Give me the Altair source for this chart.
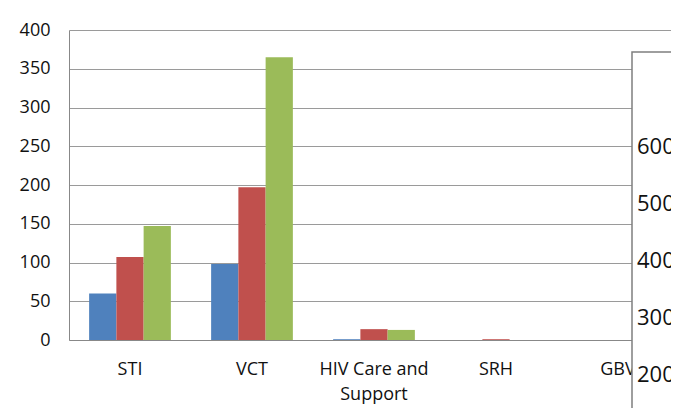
import altair as alt
import pandas as pd

categories = ["STI", "VCT", "HIV Care and Support", "SRH", "GBV"]
series_names = ["Series 1", "Series 2", "Series 3"]
series1 = [60, 98, 1, 0, 0]
series2 = [107, 197, 14, 1, 0]
series3 = [147, 365, 13, 0, 0]
colors = ["#4F81BD", "#C0504D", "#9BBB59"]
y_ticks = [0, 50, 100, 150, 200, 250, 300, 350, 400]
box_labels = [600, 500, 400, 300, 200]

rows = []
for name, vals in zip(series_names, [series1, series2, series3]):
    for c, v in zip(categories, vals):
        rows.append({"category": c, "series": name, "value": v})
df = pd.DataFrame(rows)

font = "Open Sans"
txt = "#111111"

bars = alt.Chart(df).mark_bar(strokeWidth=0).encode(
    x=alt.X(
        "category:N",
        sort=categories,
        scale=alt.Scale(paddingInner=0.33, paddingOuter=0.165, range=[0, 610]),
        axis=alt.Axis(
            title=None, labelAngle=0, ticks=False, grid=False,
            domainColor="#888888", labelFont=font, labelFontSize=18,
            labelColor=txt, labelPadding=20, labelLineHeight=25,
            labelOverlap=False,
            labelExpr="datum.value == 'HIV Care and Support' ? ['HIV Care and', 'Support'] : datum.value",
        ),
    ),
    xOffset=alt.XOffset("series:N", sort=series_names,
                        scale=alt.Scale(paddingInner=0, paddingOuter=0)),
    y=alt.Y(
        "value:Q",
        scale=alt.Scale(domain=[0, 400]),
        axis=alt.Axis(
            values=y_ticks, title=None, ticks=False, labelPadding=19,
            gridColor="#9a9a9a", domainColor="#888888", labelFont=font,
            labelFontSize=18, labelColor=txt,
        ),
    ),
    color=alt.Color("series:N", scale=alt.Scale(domain=series_names, range=colors), legend=None),
)

box = alt.Chart(pd.DataFrame({"a": [0]})).mark_rect(
    fill="white", stroke="#7f7f7f", strokeWidth=1.5
).encode(
    x=alt.value(563), x2=alt.value(720), y=alt.value(22), y2=alt.value(500)
)

box_text = alt.Chart(pd.DataFrame({"label": box_labels})).mark_text(
    align="left", baseline="middle", fontSize=22, font=font, color=txt
).encode(
    x=alt.value(568),
    y=alt.Y("label:Q", scale=alt.Scale(domain=[261.4, 805.3], zero=False, nice=False), axis=None),
    text="label:Q",
)

chart = alt.layer(bars, box, box_text).resolve_scale(y="independent").properties(
    width=602, height=310,
    autosize=alt.AutoSizeParams(type="none"),
    padding={"left": 61, "top": 22, "right": 0, "bottom": 68},
).configure_view(stroke=None)

chart.save("out.html", embed_options={"renderer": "svg", "actions": False})
